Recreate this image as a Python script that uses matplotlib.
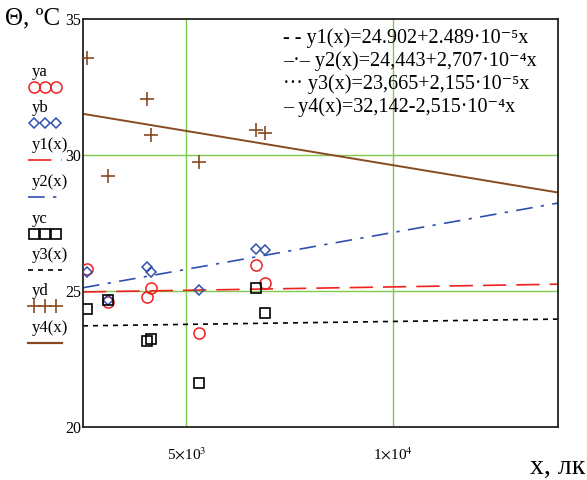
import numpy as np
import matplotlib
matplotlib.use("Agg")
import matplotlib.pyplot as plt

plt.rcParams['font.family'] = ['Liberation Serif', 'DejaVu Serif']
plt.rcParams['mathtext.fontset'] = 'stix'

# measured points (illuminance, lux) and temperatures
x = [2600, 3100, 4050, 4150, 5300, 6700, 6900]
ya = [25.81, 24.61, 24.79, 25.10, 23.47, 25.96, 25.29]
yb = [25.71, 24.67, 25.87, 25.71, 25.04, 26.54, 26.51]
yc = [24.34, 24.67, 23.16, 23.22, 21.61, 25.10, 24.20]
yd = [33.56, 29.24, 32.05, 30.75, 29.73, 30.92, 30.80]

# regression coefficients  y = a + b*x
coef = {"y1": (24.902, 2.489e-5), "y2": (24.443, 2.707e-4),
        "y3": (23.665, 2.155e-5), "y4": (32.142, -2.515e-4)}
x_range = (2500, 14000)

red = "#f02020"
blue = "#3050b0"
brown = "#8a4a20"
green = "#80c850"

fig = plt.figure(figsize=(5.87, 4.8), dpi=100)
ax = fig.add_axes([83/587, 1-427/480, 475/587, 408/480])
ax.set_xlim(*x_range)
ax.set_ylim(20, 35)

for v in (5000, 10000):
    ax.axvline(v, color=green, lw=1.0, zorder=1)
for v in (25, 30):
    ax.axhline(v, color=green, lw=1.0, zorder=1)

xx = np.linspace(x_range[0], x_range[1], 200)
ax.plot(xx, coef["y1"][0] + coef["y1"][1]*xx, color=red, lw=1.2, dashes=(14, 6), zorder=2)
ax.plot(xx, coef["y2"][0] + coef["y2"][1]*xx, color=blue, lw=1.2, dashes=(10, 5, 2, 5), zorder=2)
ax.plot(xx, coef["y3"][0] + coef["y3"][1]*xx, color="black", lw=1.2, dashes=(3, 3), zorder=2)
ax.plot(xx, coef["y4"][0] + coef["y4"][1]*xx, color=brown, lw=1.4, zorder=2)

ax.plot(x, ya, 'o', mfc='none', mec=red, ms=8, mew=1.1, zorder=3)
ax.plot(x, yb, 'D', mfc='none', mec=blue, ms=5.5, mew=1.1, zorder=3)
ax.plot(x, yc, 's', mfc='none', mec='black', ms=7, mew=1.2, zorder=3)
ax.plot(x, yd, '+', color=brown, ms=10, mew=1.2, zorder=3)

ax.set_xticks([5000, 10000])
ax.set_xticklabels([r"5$\times$10$^3$", r"1$\times$10$^4$"], fontsize=11)
ax.set_yticks([20, 25, 30, 35])
ax.set_yticklabels(["20", "25", "30", "35"], fontsize=11.5)
ax.tick_params(length=0, pad=1)
ax.tick_params(axis='x', pad=14)
for s in ax.spines.values():
    s.set_linewidth(1.3)
    s.set_color("#222222")

fig.text(5/587, 1-18/480, "Θ, ºC", fontsize=18, va='center', ha='left')
fig.text(585/587, 1-467/480, "x, лк", fontsize=20, va='center', ha='right')

# equations at top right
eqs = ["- - y1(x)=24.902+2.489·10⁻⁵x",
       "–·– y2(x)=24,443+2,707·10⁻⁴x",
       "··· y3(x)=23,665+2,155·10⁻⁵x",
       "– y4(x)=32,142-2,515·10⁻⁴x"]
for i, t in enumerate(eqs):
    fig.text(283/587, 1-(38 + i*23)/480, t, fontsize=14.5, va='center', ha='left')

# left-hand legend outside the axes
lg = fig.add_axes([0, 0, 83/587, 1])
lg.set_xlim(0, 83)
lg.set_ylim(480, 0)
lg.axis('off')
items = [("ya", 72, 'm', dict(marker='o', mfc='none', mec=red, ms=8, mew=1.1, ls='none')),
         ("yb", 108, 'm', dict(marker='D', mfc='none', mec=blue, ms=5.5, mew=1.1, ls='none')),
         ("y1(x)", 145, 'l', dict(color=red, lw=1.2, dashes=(14, 6))),
         ("y2(x)", 182, 'l', dict(color=blue, lw=1.2, dashes=(10, 5, 2, 5))),
         ("yc", 219, 'm', dict(marker='s', mfc='none', mec='black', ms=7, mew=1.2, ls='none')),
         ("y3(x)", 255, 'l', dict(color='black', lw=1.2, dashes=(3, 3))),
         ("yd", 291, 'm', dict(marker='+', color=brown, ms=10, mew=1.2, ls='none')),
         ("y4(x)", 328, 'l', dict(color=brown, lw=1.6))]
for label, ty, kind, style in items:
    lg.text(32, ty, label, fontsize=12, va='center', ha='left')
    if kind == 'm':
        lg.plot([34, 45, 56], [ty + 15]*3, clip_on=False, **style)
    else:
        lg.plot([28, 62], [ty + 15]*2, clip_on=False, **style)

fig.savefig("out.png", dpi=100)
